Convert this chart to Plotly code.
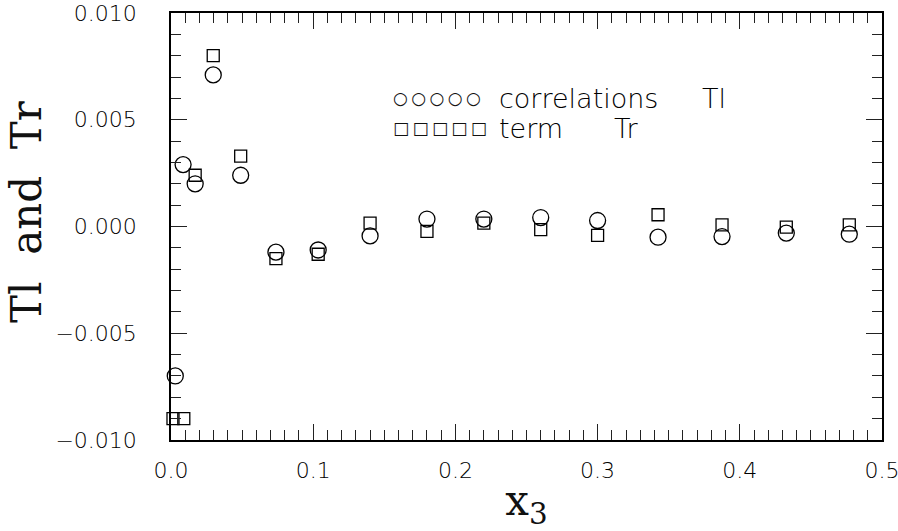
import plotly.graph_objects as go

# Tl (correlations) and Tr (term) versus x3
x_tl = [0.003, 0.0085, 0.017, 0.0297, 0.049, 0.0738, 0.1035, 0.14, 0.18, 0.22,
        0.26, 0.30, 0.3425, 0.3875, 0.4327, 0.477]
tl = [-0.0070, 0.0029, 0.0020, 0.0071, 0.0024, -0.0012, -0.0011, -0.00044, 0.00035,
      0.00035, 0.00042, 0.00028, -0.0005, -0.00047, -0.00031, -0.00036]

x_tr = [0.0014, 0.009, 0.017, 0.0297, 0.049, 0.0738, 0.1035, 0.14, 0.18, 0.22,
        0.26, 0.30, 0.3425, 0.3875, 0.4327, 0.477]
tr = [-0.0090, -0.0090, 0.0024, 0.0080, 0.0033, -0.0015, -0.0013, 0.00016, -0.00023,
      0.00016, -0.00015, -0.00042, 0.00055, 0.00008, -0.00003, 0.00008]

x_ticks = [0.0, 0.1, 0.2, 0.3, 0.4, 0.5]
y_ticks = [-0.010, -0.005, 0.000, 0.005, 0.010]

tick_font = dict(family="DejaVu Sans", size=22, color="#000000", weight=200)
title_font = dict(family="DejaVu Serif", size=42, color="#111111")

fig = go.Figure()
fig.add_trace(go.Scatter(
    x=x_tl, y=tl, mode="markers", name="correlations Tl", cliponaxis=False,
    marker=dict(symbol="circle-open", size=16, color="black", line=dict(width=1.3, color="black")),
))
fig.add_trace(go.Scatter(
    x=x_tr, y=tr, mode="markers", name="term Tr", cliponaxis=False,
    marker=dict(symbol="square-open", size=12, color="black", line=dict(width=1.3, color="black")),
))

axis_common = dict(
    showline=True, linecolor="black", linewidth=1.5, mirror="allticks",
    ticks="inside", tickcolor="#222222", tickwidth=1, ticklen=16,
    showgrid=False, zeroline=False, tickfont=tick_font,
    ticklabeloverflow="allow", automargin=False,
)

fig.update_xaxes(
    range=[0, 0.5], tickvals=x_ticks, ticktext=[f"{v:.1f}" for v in x_ticks],
    minor=dict(dtick=0.01, ticks="inside", ticklen=10, tickcolor="#222222", tickwidth=1),
    ticklabelstandoff=10,
    title=dict(text="x<sub>3</sub>", font=title_font, standoff=10),
    **axis_common,
)
fig.update_yaxes(
    range=[-0.010, 0.010], tickvals=y_ticks,
    ticktext=[(f"{v:.3f}" if v >= 0 else "\u2212" + f"{-v:.3f}") for v in y_ticks],
    minor=dict(dtick=0.001, ticks="inside", ticklen=10, tickcolor="#222222", tickwidth=1),
    ticklabelstandoff=28,
    **axis_common,
)

# Vertical axis title, placed slightly above the plot's middle
fig.add_annotation(x=-0.2025, y=0.534, xref="paper", yref="paper",
                   xanchor="center", yanchor="middle", textangle=-90,
                   text="Tl\u00a0\u00a0and\u00a0\u00a0Tr", showarrow=False, font=title_font)

# In-plot key: symbol rows and their labels
sym_font = dict(family="DejaVu Sans", size=17, color="#111111")
word_font = dict(family="DejaVu Sans", size=27, color="#000000", weight=200)
gap = "\u2009"
key_rows = [
    (gap.join(["\u25cb"] * 5), "correlations", "Tl", 0.0060, 0.372),
    (gap.join(["\u25a1"] * 5), "term", "Tr", 0.0046, 0.310),
]
for sym, word, tag, yv, xtag in key_rows:
    fig.add_annotation(x=0.155, y=yv, xref="x", yref="y", xanchor="left", yanchor="middle",
                       text=sym, showarrow=False, font=sym_font)
    fig.add_annotation(x=0.229, y=yv, xref="x", yref="y", xanchor="left", yanchor="middle",
                       text=word, showarrow=False, font=word_font)
    fig.add_annotation(x=xtag, y=yv, xref="x", yref="y", xanchor="left", yanchor="middle",
                       text=tag, showarrow=False, font=word_font)

fig.update_layout(
    width=898, height=531,
    margin=dict(l=171, r=16, t=13, b=91),
    paper_bgcolor="white", plot_bgcolor="white",
    showlegend=False,
)

fig.write_html("out.html")
